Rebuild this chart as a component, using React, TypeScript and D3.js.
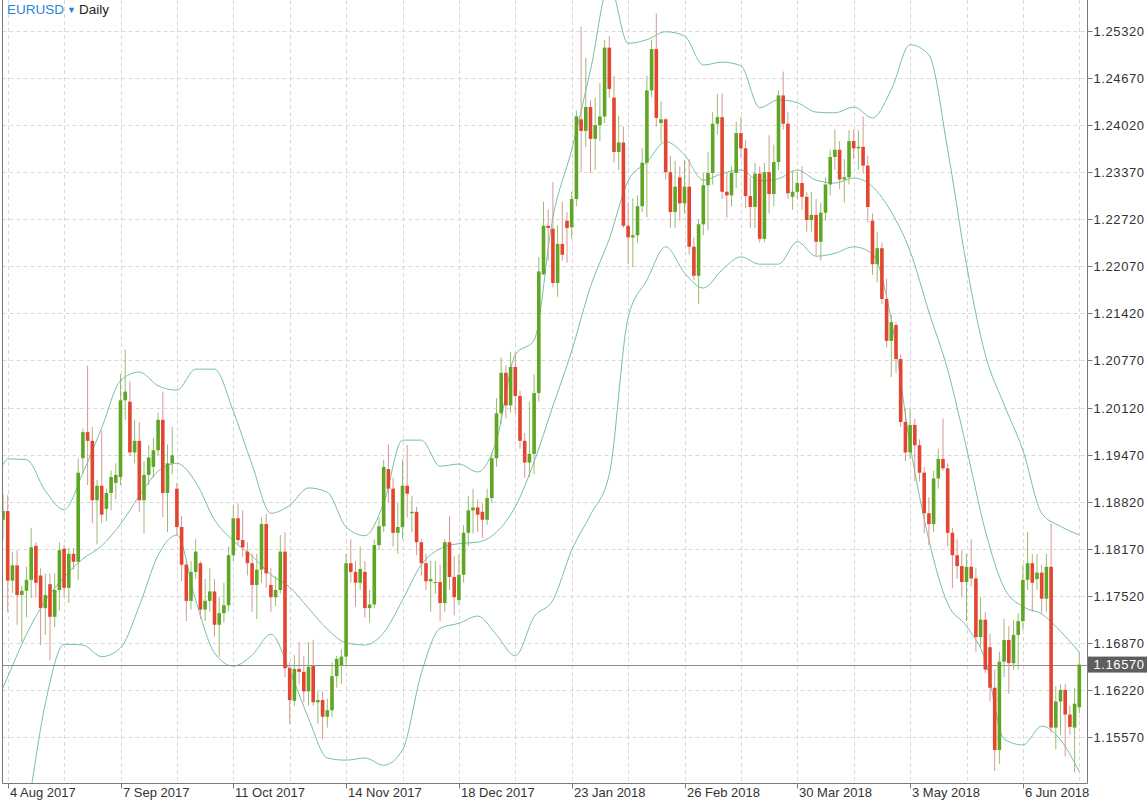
import React from "react";
import * as d3 from "d3";

// trading days shown on the chart (Dec 25 and Jan 1 are not traded)
const dates = [
  "2017-08-03", "2017-08-04",
  "2017-08-07", "2017-08-08", "2017-08-09", "2017-08-10", "2017-08-11",
  "2017-08-14", "2017-08-15", "2017-08-16", "2017-08-17", "2017-08-18",
  "2017-08-21", "2017-08-22", "2017-08-23", "2017-08-24", "2017-08-25",
  "2017-08-28", "2017-08-29", "2017-08-30", "2017-08-31", "2017-09-01",
  "2017-09-04", "2017-09-05", "2017-09-06", "2017-09-07", "2017-09-08",
  "2017-09-11", "2017-09-12", "2017-09-13", "2017-09-14", "2017-09-15",
  "2017-09-18", "2017-09-19", "2017-09-20", "2017-09-21", "2017-09-22",
  "2017-09-25", "2017-09-26", "2017-09-27", "2017-09-28", "2017-09-29",
  "2017-10-02", "2017-10-03", "2017-10-04", "2017-10-05", "2017-10-06",
  "2017-10-09", "2017-10-10", "2017-10-11", "2017-10-12", "2017-10-13",
  "2017-10-16", "2017-10-17", "2017-10-18", "2017-10-19", "2017-10-20",
  "2017-10-23", "2017-10-24", "2017-10-25", "2017-10-26", "2017-10-27",
  "2017-10-30", "2017-10-31", "2017-11-01", "2017-11-02", "2017-11-03",
  "2017-11-06", "2017-11-07", "2017-11-08", "2017-11-09", "2017-11-10",
  "2017-11-13", "2017-11-14", "2017-11-15", "2017-11-16", "2017-11-17",
  "2017-11-20", "2017-11-21", "2017-11-22", "2017-11-23", "2017-11-24",
  "2017-11-27", "2017-11-28", "2017-11-29", "2017-11-30", "2017-12-01",
  "2017-12-04", "2017-12-05", "2017-12-06", "2017-12-07", "2017-12-08",
  "2017-12-11", "2017-12-12", "2017-12-13", "2017-12-14", "2017-12-15",
  "2017-12-18", "2017-12-19", "2017-12-20", "2017-12-21", "2017-12-22",
  "2017-12-26", "2017-12-27", "2017-12-28", "2017-12-29",
  "2018-01-02", "2018-01-03", "2018-01-04", "2018-01-05",
  "2018-01-08", "2018-01-09", "2018-01-10", "2018-01-11", "2018-01-12",
  "2018-01-15", "2018-01-16", "2018-01-17", "2018-01-18", "2018-01-19",
  "2018-01-22", "2018-01-23", "2018-01-24", "2018-01-25", "2018-01-26",
  "2018-01-29", "2018-01-30", "2018-01-31", "2018-02-01", "2018-02-02",
  "2018-02-05", "2018-02-06", "2018-02-07", "2018-02-08", "2018-02-09",
  "2018-02-12", "2018-02-13", "2018-02-14", "2018-02-15", "2018-02-16",
  "2018-02-19", "2018-02-20", "2018-02-21", "2018-02-22", "2018-02-23",
  "2018-02-26", "2018-02-27", "2018-02-28", "2018-03-01", "2018-03-02",
  "2018-03-05", "2018-03-06", "2018-03-07", "2018-03-08", "2018-03-09",
  "2018-03-12", "2018-03-13", "2018-03-14", "2018-03-15", "2018-03-16",
  "2018-03-19", "2018-03-20", "2018-03-21", "2018-03-22", "2018-03-23",
  "2018-03-26", "2018-03-27", "2018-03-28", "2018-03-29", "2018-03-30",
  "2018-04-02", "2018-04-03", "2018-04-04", "2018-04-05", "2018-04-06",
  "2018-04-09", "2018-04-10", "2018-04-11", "2018-04-12", "2018-04-13",
  "2018-04-16", "2018-04-17", "2018-04-18", "2018-04-19", "2018-04-20",
  "2018-04-23", "2018-04-24", "2018-04-25", "2018-04-26", "2018-04-27",
  "2018-04-30", "2018-05-01", "2018-05-02", "2018-05-03", "2018-05-04",
  "2018-05-07", "2018-05-08", "2018-05-09", "2018-05-10", "2018-05-11",
  "2018-05-14", "2018-05-15", "2018-05-16", "2018-05-17", "2018-05-18",
  "2018-05-21", "2018-05-22", "2018-05-23", "2018-05-24", "2018-05-25",
  "2018-05-28", "2018-05-29", "2018-05-30", "2018-05-31", "2018-06-01",
  "2018-06-04", "2018-06-05", "2018-06-06", "2018-06-07", "2018-06-08",
  "2018-06-11", "2018-06-12", "2018-06-13", "2018-06-14", "2018-06-15",
  "2018-06-18", "2018-06-19", "2018-06-20", "2018-06-21", "2018-06-22",
];

// one line per week, same order as dates
const opens = [
  1.1857, 1.1869,
  1.1773, 1.1794, 1.1753, 1.1759, 1.1774,
  1.1821, 1.1780, 1.1735, 1.1768, 1.1723,
  1.1760, 1.1817, 1.1763, 1.1810, 1.1799,
  1.1942, 1.1978, 1.1966, 1.1884, 1.1904,
  1.1872, 1.1894, 1.1908, 1.1916, 1.2022,
  1.2020, 1.1950, 1.1966, 1.1884, 1.1919,
  1.1930, 1.1953, 1.1995, 1.1894, 1.1935,
  1.1900, 1.1847, 1.1795, 1.1745, 1.1785,
  1.1797, 1.1733, 1.1745, 1.1758, 1.1712,
  1.1728, 1.1739, 1.1808, 1.1859, 1.1829,
  1.1813, 1.1797, 1.1767, 1.1788, 1.1851,
  1.1767, 1.1750, 1.1760, 1.1813, 1.1652,
  1.1607, 1.1651, 1.1647, 1.1620, 1.1655,
  1.1605, 1.1608, 1.1585, 1.1594, 1.1641,
  1.1656, 1.1668, 1.1797, 1.1785, 1.1770,
  1.1785, 1.1735, 1.1740, 1.1822, 1.1848,
  1.1927, 1.1900, 1.1839, 1.1847, 1.1904,
  1.1866, 1.1868, 1.1826, 1.1797, 1.1772,
  1.1770, 1.1771, 1.1742, 1.1826, 1.1778,
  1.1746, 1.1781, 1.1839, 1.1870, 1.1874,
  1.1868, 1.1857, 1.1887, 1.1942,
  1.2004, 1.2060, 1.2015, 1.2068,
  1.2028, 1.1966, 1.1936, 1.1948, 1.2032,
  1.2196, 1.2263, 1.2259, 1.2184, 1.2238,
  1.2270, 1.2261, 1.2300, 1.2410, 1.2394,
  1.2427, 1.2383, 1.2402, 1.2414, 1.2509,
  1.2440, 1.2365, 1.2378, 1.2263, 1.2247,
  1.2250, 1.2290, 1.2350, 1.2450, 1.2507,
  1.2405, 1.2410, 1.2337, 1.2282, 1.2330,
  1.2294, 1.2317, 1.2234, 1.2194, 1.2265,
  1.2319, 1.2336, 1.2404, 1.2413, 1.2310,
  1.2305, 1.2336, 1.2391, 1.2370, 1.2304,
  1.2289, 1.2335, 1.2245, 1.2337, 1.2307,
  1.2351, 1.2443, 1.2404, 1.2303, 1.2310,
  1.2322, 1.2303, 1.2271, 1.2278, 1.2241,
  1.2281, 1.2320, 1.2358, 1.2368, 1.2327,
  1.2330, 1.2380, 1.2370, 1.2372, 1.2346,
  1.2270, 1.2210, 1.2232, 1.2162, 1.2104,
  1.2126, 1.2079, 1.1992, 1.1950, 1.1988,
  1.1960, 1.1922, 1.1866, 1.1851, 1.1914,
  1.1941, 1.1928, 1.1839, 1.1808, 1.1793,
  1.1771, 1.1792, 1.1776, 1.1695, 1.1719,
  1.1681, 1.1625, 1.1539, 1.1661, 1.1691,
  1.1659, 1.1698, 1.1717, 1.1774, 1.1797,
  1.1775, 1.1784, 1.1748, 1.1792, 1.1570,
  1.1606, 1.1622, 1.1588, 1.1570, 1.1598,
];

const highs = [
  1.1893, 1.1891,
  1.1813, 1.1815, 1.1766, 1.1792, 1.1846,
  1.1826, 1.1790, 1.1783, 1.1783, 1.1783,
  1.1826, 1.1822, 1.1818, 1.1818, 1.1942,
  1.1983, 1.2070, 1.1985, 1.1912, 1.1980,
  1.1900, 1.1925, 1.1935, 1.2058, 1.2092,
  1.2048, 1.1995, 1.1992, 1.1938, 1.1960,
  1.1970, 1.2005, 1.2034, 1.1961, 1.1985,
  1.1908, 1.1862, 1.1802, 1.1800, 1.1830,
  1.1800, 1.1775, 1.1790, 1.1775, 1.1750,
  1.1770, 1.1820, 1.1877, 1.1880, 1.1870,
  1.1826, 1.1810, 1.1810, 1.1860, 1.1865,
  1.1790, 1.1779, 1.1836, 1.1840, 1.1660,
  1.1670, 1.1688, 1.1669, 1.1688, 1.1691,
  1.1620, 1.1620, 1.1610, 1.1660, 1.1669,
  1.1678, 1.1810, 1.1830, 1.1800, 1.1820,
  1.1800, 1.1760, 1.1830, 1.1860, 1.1940,
  1.1961, 1.1915, 1.1880, 1.1940, 1.1960,
  1.1890, 1.1875, 1.1830, 1.1810, 1.1800,
  1.1800, 1.1795, 1.1830, 1.1862, 1.1807,
  1.1809, 1.1850, 1.1890, 1.1900, 1.1885,
  1.1880, 1.1900, 1.1950, 1.2025,
  1.2081, 1.2070, 1.2089, 1.2088,
  1.2035, 1.1977, 1.2020, 1.2058, 1.2220,
  1.2296, 1.2285, 1.2323, 1.2264, 1.2296,
  1.2282, 1.2310, 1.2422, 1.2538, 1.2495,
  1.2437, 1.2440, 1.2460, 1.2520, 1.2525,
  1.2470, 1.2415, 1.2400, 1.2295, 1.2301,
  1.2305, 1.2370, 1.2470, 1.2520, 1.2556,
  1.2435, 1.2412, 1.2360, 1.2353, 1.2345,
  1.2354, 1.2355, 1.2247, 1.2272, 1.2336,
  1.2365, 1.2420, 1.2445, 1.2446, 1.2336,
  1.2345, 1.2407, 1.2413, 1.2382, 1.2330,
  1.2350, 1.2345, 1.2350, 1.2388, 1.2375,
  1.2450, 1.2476, 1.2420, 1.2339, 1.2337,
  1.2345, 1.2310, 1.2310, 1.2300, 1.2295,
  1.2330, 1.2368, 1.2396, 1.2380, 1.2355,
  1.2395, 1.2396, 1.2395, 1.2414, 1.2360,
  1.2280, 1.2255, 1.2240, 1.2190, 1.2140,
  1.2130, 1.2085, 1.2010, 1.2010, 1.1996,
  1.1968, 1.1930, 1.1888, 1.1925, 1.1955,
  1.1997, 1.1935, 1.1846, 1.1830, 1.1815,
  1.1810, 1.1830, 1.1790, 1.1750, 1.1730,
  1.1700, 1.1650, 1.1675, 1.1720, 1.1710,
  1.1718, 1.1728, 1.1795, 1.1840, 1.1810,
  1.1810, 1.1795, 1.1810, 1.1852, 1.1627,
  1.1630, 1.1630, 1.1600, 1.1625, 1.1674,
];

const lows = [
  1.1830, 1.1729,
  1.1756, 1.1712, 1.1688, 1.1722, 1.1749,
  1.1750, 1.1684, 1.1698, 1.1663, 1.1709,
  1.1732, 1.1750, 1.1742, 1.1788, 1.1774,
  1.1920, 1.1905, 1.1852, 1.1823, 1.1852,
  1.1855, 1.1870, 1.1885, 1.1905, 1.1995,
  1.1945, 1.1935, 1.1868, 1.1838, 1.1905,
  1.1915, 1.1946, 1.1861, 1.1840, 1.1920,
  1.1836, 1.1772, 1.1717, 1.1733, 1.1775,
  1.1720, 1.1717, 1.1730, 1.1696, 1.1668,
  1.1715, 1.1730, 1.1800, 1.1823, 1.1806,
  1.1780, 1.1730, 1.1720, 1.1770, 1.1763,
  1.1730, 1.1738, 1.1755, 1.1640, 1.1575,
  1.1600, 1.1630, 1.1605, 1.1600, 1.1600,
  1.1575, 1.1554, 1.1570, 1.1585, 1.1625,
  1.1630, 1.1655, 1.1770, 1.1737, 1.1760,
  1.1722, 1.1715, 1.1735, 1.1815, 1.1840,
  1.1880, 1.1820, 1.1810, 1.1830, 1.1860,
  1.1840, 1.1808, 1.1780, 1.1760, 1.1730,
  1.1755, 1.1717, 1.1730, 1.1760, 1.1725,
  1.1740, 1.1770, 1.1820, 1.1838, 1.1840,
  1.1832, 1.1850, 1.1880, 1.1930,
  1.1990, 1.1997, 1.2005, 1.2004,
  1.1955, 1.1915, 1.1916, 1.1920, 1.2020,
  1.2195, 1.2215, 1.2178, 1.2165, 1.2215,
  1.2212, 1.2245, 1.2290, 1.2337, 1.2372,
  1.2336, 1.2340, 1.2380, 1.2405, 1.2440,
  1.2350, 1.2340, 1.2260, 1.2210, 1.2206,
  1.2240, 1.2282, 1.2275, 1.2440, 1.2400,
  1.2378, 1.2327, 1.2260, 1.2260, 1.2270,
  1.2280, 1.2223, 1.2188, 1.2155, 1.2250,
  1.2257, 1.2320, 1.2389, 1.2300, 1.2274,
  1.2290, 1.2315, 1.2357, 1.2287, 1.2260,
  1.2260, 1.2240, 1.2240, 1.2280, 1.2290,
  1.2340, 1.2396, 1.2300, 1.2285, 1.2300,
  1.2285, 1.2255, 1.2255, 1.2222, 1.2215,
  1.2270, 1.2305, 1.2340, 1.2314, 1.2295,
  1.2320, 1.2355, 1.2340, 1.2335, 1.2268,
  1.2195, 1.2185, 1.2155, 1.2095, 1.2054,
  1.2060, 1.1985, 1.1938, 1.1940, 1.1910,
  1.1910, 1.1838, 1.1822, 1.1840, 1.1900,
  1.1925, 1.1820, 1.1763, 1.1775, 1.1750,
  1.1717, 1.1765, 1.1675, 1.1680, 1.1645,
  1.1606, 1.1510, 1.1520, 1.1640, 1.1617,
  1.1650, 1.1650, 1.1705, 1.1760, 1.1730,
  1.1760, 1.1728, 1.1730, 1.1563, 1.1540,
  1.1560, 1.1530, 1.1560, 1.1508, 1.1590,
];

const closes = [
  1.1869, 1.1773,
  1.1794, 1.1753, 1.1759, 1.1774, 1.1819,
  1.1770, 1.1735, 1.1753, 1.1723, 1.1760,
  1.1815, 1.1763, 1.1810, 1.1799, 1.1922,
  1.1978, 1.1966, 1.1884, 1.1904, 1.1864,
  1.1894, 1.1916, 1.1919, 1.2022, 1.2034,
  1.1950, 1.1966, 1.1884, 1.1919, 1.1943,
  1.1953, 1.1995, 1.1894, 1.1935, 1.1946,
  1.1847, 1.1795, 1.1745, 1.1785, 1.1813,
  1.1733, 1.1745, 1.1758, 1.1712, 1.1728,
  1.1739, 1.1808, 1.1859, 1.1829, 1.1819,
  1.1797, 1.1767, 1.1788, 1.1851, 1.1783,
  1.1750, 1.1760, 1.1813, 1.1652, 1.1608,
  1.1651, 1.1647, 1.1620, 1.1654, 1.1605,
  1.1608, 1.1585, 1.1594, 1.1641, 1.1665,
  1.1668, 1.1797, 1.1785, 1.1770, 1.1789,
  1.1735, 1.1740, 1.1822, 1.1848, 1.1930,
  1.1900, 1.1839, 1.1847, 1.1904, 1.1893,
  1.1868, 1.1826, 1.1797, 1.1772, 1.1775,
  1.1771, 1.1742, 1.1826, 1.1778, 1.1750,
  1.1781, 1.1839, 1.1870, 1.1874, 1.1864,
  1.1857, 1.1887, 1.1942, 1.2004,
  1.2060, 1.2015, 1.2068, 1.2028,
  1.1966, 1.1936, 1.1948, 1.2032, 1.2200,
  1.2263, 1.2260, 1.2184, 1.2238, 1.2223,
  1.2260, 1.2300, 1.2414, 1.2394, 1.2427,
  1.2383, 1.2402, 1.2414, 1.2509, 1.2452,
  1.2365, 1.2378, 1.2263, 1.2247, 1.2250,
  1.2290, 1.2350, 1.2450, 1.2507, 1.2412,
  1.2410, 1.2337, 1.2282, 1.2317, 1.2294,
  1.2317, 1.2234, 1.2194, 1.2265, 1.2319,
  1.2336, 1.2404, 1.2413, 1.2310, 1.2305,
  1.2336, 1.2391, 1.2370, 1.2304, 1.2289,
  1.2335, 1.2245, 1.2337, 1.2307, 1.2351,
  1.2443, 1.2404, 1.2308, 1.2310, 1.2322,
  1.2303, 1.2271, 1.2278, 1.2241, 1.2281,
  1.2320, 1.2358, 1.2368, 1.2327, 1.2330,
  1.2380, 1.2370, 1.2372, 1.2346, 1.2289,
  1.2210, 1.2232, 1.2162, 1.2104, 1.2130,
  1.2079, 1.1992, 1.1950, 1.1988, 1.1960,
  1.1922, 1.1866, 1.1851, 1.1914, 1.1941,
  1.1928, 1.1839, 1.1808, 1.1793, 1.1771,
  1.1792, 1.1776, 1.1695, 1.1719, 1.1650,
  1.1625, 1.1539, 1.1661, 1.1691, 1.1659,
  1.1698, 1.1717, 1.1774, 1.1797, 1.1770,
  1.1784, 1.1748, 1.1792, 1.1570, 1.1606,
  1.1622, 1.1588, 1.1571, 1.1603, 1.1657,
];

// Bollinger bands: Aug 3, then every 4th trading day from Aug 4
const bandDates = dates.filter((_, j) => j === 0 || (j - 1) % 4 === 0);

const upperBand = [
  1.1933, 1.1941, 1.1940, 1.1897, 1.1871, 1.1922, 1.1984, 1.2049, 1.2061, 1.2042,
  1.2036, 1.2065, 1.2065, 1.2007, 1.1933, 1.1866, 1.1877, 1.1901, 1.1895, 1.1847,
  1.1835, 1.1880, 1.1967, 1.1967, 1.1931, 1.1934, 1.1923, 1.1967, 1.2085, 1.2105,
  1.2275, 1.2368, 1.2478, 1.2596, 1.2515, 1.2520, 1.2531, 1.2525, 1.2485, 1.2489,
  1.2484, 1.2426, 1.2437, 1.2433, 1.2420, 1.2419, 1.2427, 1.2412, 1.2451, 1.2513,
  1.2499, 1.2368, 1.2209, 1.2085, 1.2016, 1.1953, 1.1866, 1.1848, 1.1836,
];

const middleBand = [
  1.1625, 1.1640, 1.1699, 1.1745, 1.1778, 1.1803, 1.1821, 1.1851, 1.1890, 1.1924,
  1.1935, 1.1909, 1.1857, 1.1828, 1.1807, 1.1781, 1.1764, 1.1735, 1.1706, 1.1687,
  1.1684, 1.1701, 1.1746, 1.1795, 1.1817, 1.1824, 1.1826, 1.1840, 1.1875, 1.1937,
  1.2014, 1.2090, 1.2179, 1.2245, 1.2325, 1.2351, 1.2379, 1.2361, 1.2326, 1.2335,
  1.2340, 1.2325, 1.2328, 1.2340, 1.2326, 1.2322, 1.2329, 1.2317, 1.2282, 1.2228,
  1.2144, 1.2064, 1.1956, 1.1842, 1.1763, 1.1737, 1.1727, 1.1703, 1.1674,
];

const lowerBand = [
  1.1290, 1.1332, 1.1449, 1.1603, 1.1685, 1.1684, 1.1668, 1.1680, 1.1738, 1.1808,
  1.1836, 1.1746, 1.1673, 1.1655, 1.1670, 1.1699, 1.1648, 1.1583, 1.1528, 1.1525,
  1.1528, 1.1518, 1.1539, 1.1645, 1.1707, 1.1714, 1.1724, 1.1698, 1.1669, 1.1723,
  1.1746, 1.1815, 1.1864, 1.1920, 1.2136, 1.2188, 1.2234, 1.2198, 1.2177, 1.2202,
  1.2220, 1.2210, 1.2210, 1.2241, 1.2221, 1.2225, 1.2234, 1.2224, 1.2133, 1.1960,
  1.1829, 1.1741, 1.1710, 1.1663, 1.1554, 1.1546, 1.1572, 1.1553, 1.1509,
];

const yTicks = [
  1.1557, 1.1622, 1.1687, 1.1752, 1.1817, 1.1882, 1.1947, 1.2012,
  1.2077, 1.2142, 1.2207, 1.2272, 1.2337, 1.2402, 1.2467, 1.2532,
];

const xTickDates = [
  "2017-08-04", "2017-09-07", "2017-10-11", "2017-11-14", "2017-12-18",
  "2018-01-23", "2018-02-26", "2018-03-30", "2018-05-03", "2018-06-06",
];
const xTickLabels = [
  "4 Aug 2017", "7 Sep 2017", "11 Oct 2017", "14 Nov 2017", "18 Dec 2017",
  "23 Jan 2018", "26 Feb 2018", "30 Mar 2018", "3 May 2018", "6 Jun 2018",
];

const lastPrice = 1.1657;

const WIDTH = 1147;
const HEIGHT = 800;
const PLOT_LEFT = 2.5;
const PLOT_RIGHT = 1087.5;
const PLOT_BOTTOM = 783.5;

const UP = "#5fa526";
const DOWN = "#e3452f";
const UP_WICK = "#95bf6c";
const DOWN_WICK = "#d39a92";
const BAND = "#74c1a7";
const GRID = "#d9d9d9";
const FONT = "'Liberation Sans', Arial, Helvetica, sans-serif";

export default function App() {
  const x = d3.scalePoint<string>().domain(dates).range([3, 1079.3]);
  const y = d3.scaleLinear().domain([1.1557, 1.2532]).range([737, 31]);
  const fmt = d3.format(".5f");

  const gridDates = dates.filter((_, j) => j >= 1 && (j - 1) % 12 === 0);

  const bandLine = (vals: number[]) =>
    d3
      .line<number>()
      .x((_, i) => x(bandDates[i]) as number)
      .y((v) => y(v))
      .curve(d3.curveMonotoneX)(vals) as string;

  const bodyW = 3.6;

  return (
    <svg
      width={WIDTH}
      height={HEIGHT}
      style={{ position: "absolute", left: 0, top: 0, background: "#fff" }}
      fontFamily={FONT}
    >
      <defs>
        <clipPath id="plot">
          <rect x={PLOT_LEFT} y={0} width={PLOT_RIGHT - PLOT_LEFT} height={PLOT_BOTTOM} />
        </clipPath>
      </defs>

      {/* grid */}
      <g stroke={GRID} strokeWidth={1} strokeDasharray="4,3">
        {yTicks.map((t) => (
          <line key={t} x1={PLOT_LEFT} x2={PLOT_RIGHT} y1={Math.round(y(t)) + 0.5} y2={Math.round(y(t)) + 0.5} />
        ))}
        {gridDates.map((d) => {
          const gx = Math.round(x(d) as number) + 0.5;
          return <line key={d} x1={gx} x2={gx} y1={0} y2={PLOT_BOTTOM} />;
        })}
      </g>

      <g clipPath="url(#plot)">
        {/* bands */}
        <g fill="none" stroke={BAND} strokeWidth={1}>
          <path d={bandLine(upperBand)} />
          <path d={bandLine(middleBand)} />
          <path d={bandLine(lowerBand)} />
        </g>

        {/* last price line */}
        <line
          x1={PLOT_LEFT}
          x2={PLOT_RIGHT}
          y1={Math.round(y(lastPrice)) + 0.5}
          y2={Math.round(y(lastPrice)) + 0.5}
          stroke="#8c8c8c"
          strokeWidth={1}
        />

        {/* candles */}
        {dates.map((d, i) => {
          const cx = x(d) as number;
          const up = closes[i] >= opens[i];
          const top = y(Math.max(opens[i], closes[i]));
          const bot = y(Math.min(opens[i], closes[i]));
          return (
            <g key={d}>
              <line
                x1={cx}
                x2={cx}
                y1={y(highs[i])}
                y2={y(lows[i])}
                stroke={up ? UP_WICK : DOWN_WICK}
                strokeWidth={1}
              />
              <rect
                x={cx - bodyW / 2}
                y={top}
                width={bodyW}
                height={Math.max(1, bot - top)}
                fill={up ? UP : DOWN}
              />
            </g>
          );
        })}
      </g>

      {/* frame */}
      <g stroke="#7a7a7a" strokeWidth={1}>
        <line x1={PLOT_LEFT} x2={PLOT_LEFT} y1={0} y2={PLOT_BOTTOM} />
        <line x1={PLOT_RIGHT} x2={PLOT_RIGHT} y1={0} y2={PLOT_BOTTOM} />
        <line x1={PLOT_LEFT} x2={PLOT_RIGHT} y1={PLOT_BOTTOM} y2={PLOT_BOTTOM} />
      </g>

      {/* right axis */}
      <g fontSize={13} fill="#333" letterSpacing={0.6}>
        {yTicks.map((t) => {
          const ty = Math.round(y(t)) + 0.5;
          return (
            <g key={t}>
              <line x1={PLOT_RIGHT} x2={PLOT_RIGHT + 5} y1={ty} y2={ty} stroke="#7a7a7a" />
              <text x={PLOT_RIGHT + 6} y={ty} dy="0.35em">
                {fmt(t)}
              </text>
            </g>
          );
        })}
      </g>

      {/* last price box */}
      <g>
        <rect x={PLOT_RIGHT + 0.5} y={y(lastPrice) - 8} width={WIDTH - PLOT_RIGHT} height={16} fill="#5e5e5e" />
        <text
          x={PLOT_RIGHT + 6}
          y={y(lastPrice)}
          dy="0.35em"
          fontSize={13}
          fill="#fff"
          letterSpacing={0.6}
        >
          {fmt(lastPrice)}
        </text>
      </g>

      {/* bottom axis */}
      <g fontSize={13} fill="#333">
        {xTickDates.map((d, i) => {
          const tx = Math.round(x(d) as number) + 0.5;
          return (
            <g key={d}>
              <line x1={tx} x2={tx} y1={PLOT_BOTTOM} y2={PLOT_BOTTOM + 5} stroke="#7a7a7a" />
              <text x={tx + 1.5} y={797}>
                {xTickLabels[i]}
              </text>
            </g>
          );
        })}
      </g>

      {/* title */}
      <text x={7} y={14} fontSize={13.5}>
        <tspan fill="#2a84d8" fontWeight={500}>EURUSD</tspan>
        <tspan fill="#2a84d8" fontSize={9} dx={3} dy={-1}>▼</tspan>
        <tspan fill="#222" dx={3} dy={1}>Daily</tspan>
      </text>
    </svg>
  );
}
